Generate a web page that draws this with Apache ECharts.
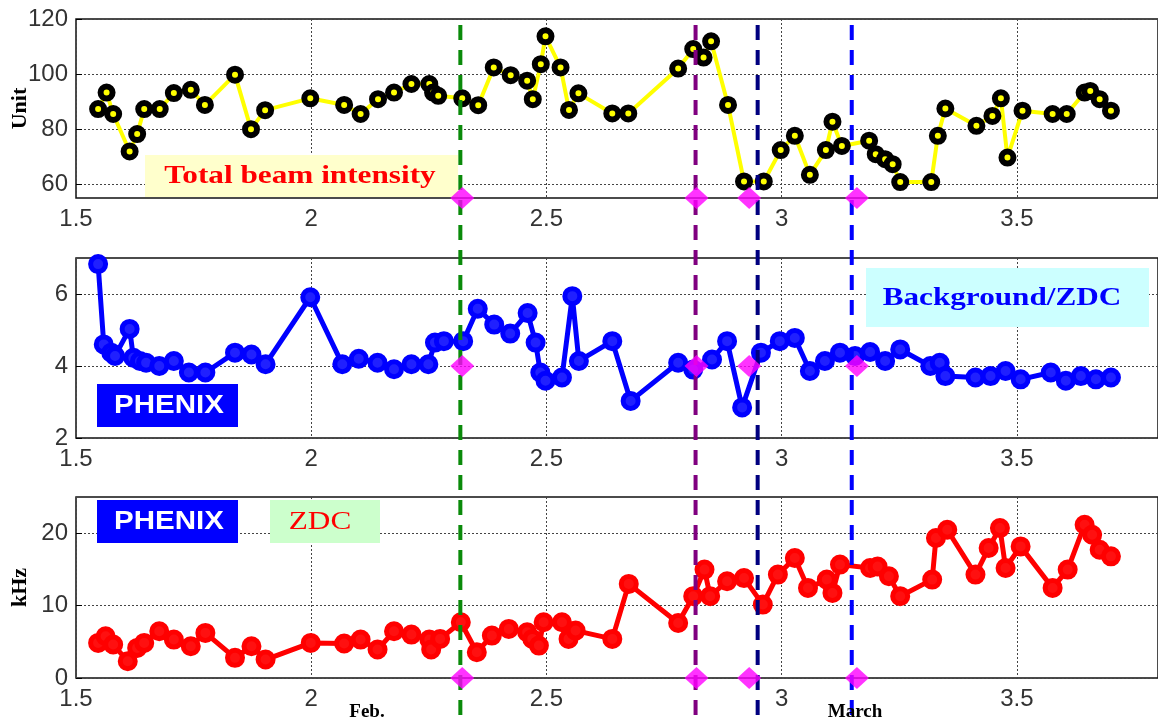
<!DOCTYPE html>
<html>
<head>
<meta charset="utf-8">
<script src="https://cdn.jsdelivr.net/npm/echarts@6/dist/echarts.min.js"></script>
<style>
html,body{margin:0;padding:0;background:#fff;}
#chart{width:1158px;height:725px;}
</style>
</head>
<body>
<div id="chart"></div>
<script>
// x-axis ticks (days, Feb. 1.5 ... March 3.5)
const xTicks = [1.5, 2, 2.5, 3, 3.5];
const beamTicks = [60, 80, 100, 120];
const bgTicks = [2, 4, 6];
const zdcTicks = [0, 10, 20];

// Total beam intensity (Unit)
const beamData = [[1.547,87.3],[1.565,93.3],[1.579,85.5],[1.614,71.9],[1.630,78.2],[1.645,87.3],[1.678,87.3],[1.708,93.1],[1.744,94.3],[1.774,88.8],[1.838,99.8],[1.872,80.0],[1.902,86.9],[1.998,91.2],[2.070,88.8],[2.105,85.5],[2.142,90.9],[2.176,93.3],[2.213,96.4],[2.251,96.4],[2.259,93.3],[2.270,92.1],[2.321,91.2],[2.355,88.7],[2.388,102.4],[2.424,99.6],[2.459,97.6],[2.471,90.9],[2.488,103.6],[2.498,113.7],[2.530,102.4],[2.548,87.0],[2.568,93.0],[2.640,85.7],[2.674,85.7],[2.780,102.0],[2.812,109.1],[2.834,106.0],[2.850,111.9],[2.886,88.8],[2.920,61.0],[2.962,61.0],[2.998,72.4],[3.028,77.6],[3.060,63.4],[3.094,72.4],[3.108,82.7],[3.128,73.9],[3.186,75.8],[3.200,70.9],[3.220,69.1],[3.236,67.3],[3.252,60.8],[3.318,60.8],[3.332,77.6],[3.348,87.5],[3.414,81.2],[3.448,84.8],[3.466,91.2],[3.480,69.7],[3.512,86.7],[3.576,85.5],[3.606,85.5],[3.644,93.3],[3.656,93.9],[3.676,90.9],[3.700,86.7]];

// PHENIX Background/ZDC
const bgData = [[1.547,6.83],[1.559,4.60],[1.575,4.37],[1.583,4.28],[1.614,5.03],[1.622,4.23],[1.636,4.14],[1.649,4.09],[1.677,4.00],[1.708,4.14],[1.740,3.82],[1.775,3.82],[1.838,4.37],[1.873,4.32],[1.903,4.05],[1.998,5.91],[2.066,4.05],[2.101,4.20],[2.141,4.09],[2.176,3.91],[2.213,4.05],[2.249,4.05],[2.263,4.65],[2.282,4.69],[2.323,4.69],[2.354,5.59],[2.389,5.15],[2.423,4.90],[2.460,5.47],[2.477,4.65],[2.487,3.82],[2.498,3.59],[2.533,3.68],[2.555,5.94],[2.569,4.14],[2.640,4.69],[2.679,3.03],[2.780,4.09],[2.812,3.90],[2.852,4.18],[2.884,4.69],[2.916,2.85],[2.956,4.37],[2.996,4.69],[3.028,4.78],[3.060,3.86],[3.092,4.14],[3.124,4.37],[3.156,4.28],[3.188,4.39],[3.220,4.14],[3.252,4.46],[3.316,4.00],[3.336,4.09],[3.348,3.72],[3.412,3.68],[3.444,3.72],[3.476,3.86],[3.508,3.63],[3.572,3.82],[3.604,3.59],[3.636,3.72],[3.668,3.63],[3.700,3.68]];

// PHENIX ZDC rate (kHz)
const zdcData = [[1.547,4.85],[1.563,5.77],[1.579,4.62],[1.610,2.32],[1.630,4.16],[1.645,4.85],[1.677,6.46],[1.708,5.31],[1.744,4.39],[1.775,6.23],[1.838,2.78],[1.873,4.39],[1.903,2.55],[1.999,4.85],[2.070,4.76],[2.105,5.31],[2.141,3.93],[2.176,6.46],[2.213,6.00],[2.251,5.31],[2.255,3.93],[2.274,5.40],[2.318,7.70],[2.352,3.56],[2.384,5.86],[2.420,6.78],[2.459,6.32],[2.470,5.40],[2.484,4.48],[2.494,7.70],[2.533,7.70],[2.547,5.40],[2.562,6.55],[2.640,5.40],[2.675,13.0],[2.780,7.60],[2.812,11.3],[2.836,14.97],[2.848,11.3],[2.884,13.36],[2.920,13.8],[2.960,10.14],[2.992,14.28],[3.028,16.57],[3.056,12.44],[3.096,13.59],[3.108,11.75],[3.124,15.66],[3.188,15.2],[3.204,15.4],[3.228,14.05],[3.252,11.3],[3.320,13.59],[3.328,19.33],[3.352,20.48],[3.412,14.28],[3.440,17.95],[3.464,20.71],[3.476,15.2],[3.508,18.18],[3.576,12.44],[3.608,14.97],[3.644,21.17],[3.660,19.79],[3.676,17.72],[3.700,16.80]];

// vertical dashed event lines and magenta event markers
const eventLines = [2.317, 2.817, 2.949, 3.149];
const eventColors = ['#0a8a0a', '#800080', '#000080', '#0000ff'];
const eventMarks = [2.321, 2.819, 2.931, 3.160];

const chart = echarts.init(document.getElementById('chart'));
const tickFont = {fontFamily: 'Liberation Sans, Arial, sans-serif', fontSize: 24, color: '#333'};
const grids = [
  {left: 76, right: 0, top: 19, height: 179},
  {left: 76, right: 0, top: 258, height: 180},
  {left: 76, right: 0, top: 497, height: 181}
];
const splitStyle = {show: true, lineStyle: {color: '#444', type: [2, 2], width: 1}};

function xAx(i) {
  return {
    type: 'value', gridIndex: i, min: 1.5, max: 3.8, interval: 0.5,
    axisLine: {show: false},
    axisTick: {show: false},
    splitLine: splitStyle,
    axisLabel: Object.assign({margin: 9, customValues: xTicks}, tickFont)
  };
}
function yAx(i, min, max, ticks, name) {
  return {
    type: 'value', gridIndex: i, min: min, max: max,
    name: name || '', nameLocation: 'middle', nameGap: 45, nameMoveOverlap: false,
    nameTextStyle: {fontFamily: 'Liberation Serif, Times New Roman, serif', fontWeight: 'bold', fontSize: 22, color: '#000'},
    axisLine: {show: false},
    axisTick: {show: true, inside: true, length: 6, customValues: ticks, lineStyle: {color: '#000'}},
    splitLine: splitStyle,
    axisLabel: Object.assign({margin: 8, customValues: ticks}, tickFont)
  };
}

const series = [
  {
    type: 'line', xAxisIndex: 0, yAxisIndex: 0, data: beamData,
    lineStyle: {color: '#ffff00', width: 4},
    symbol: 'circle', symbolSize: 12,
    itemStyle: {color: '#ffff00', borderColor: '#000', borderWidth: 6},
    z: 3
  },
  {
    type: 'line', xAxisIndex: 1, yAxisIndex: 1, data: bgData,
    lineStyle: {color: '#0000ff', width: 5},
    symbol: 'circle', symbolSize: 15,
    itemStyle: {color: '#2020ff', borderColor: '#0000ff', borderWidth: 5},
    z: 3
  },
  {
    type: 'line', xAxisIndex: 2, yAxisIndex: 2, data: zdcData,
    lineStyle: {color: '#ff0000', width: 5},
    symbol: 'circle', symbolSize: 15,
    itemStyle: {color: '#ff1010', borderColor: '#ff0000', borderWidth: 5},
    z: 3
  }
];
eventLines.forEach(function (x, k) {
  series.push({
    type: 'line', xAxisIndex: 3, yAxisIndex: 3,
    data: [[x, 0], [x, 1]], symbol: 'none', silent: true,
    lineStyle: {color: eventColors[k], width: 4, type: [15, 10]},
    z: 5
  });
});
const markLevels = [55, 4, 0];
markLevels.forEach(function (lv, i) {
  series.push({
    type: 'scatter', xAxisIndex: i, yAxisIndex: i, clip: false,
    data: eventMarks.map(function (x) { return [x, lv]; }),
    symbol: 'diamond', symbolSize: [24, 22],
    itemStyle: {color: '#ff00ff'}, z: 6
  });
});

const serifB = '"Liberation Serif", "Times New Roman", serif';
const option = {
  animation: false,
  backgroundColor: '#fff',
  grid: grids.map(function (g) { return Object.assign({show: true, borderColor: '#111', borderWidth: 1.5, backgroundColor: 'transparent', containLabel: false, outerBoundsMode: 'none'}, g); })
    .concat([{left: 76, right: 0, top: 22, height: 693, show: false, containLabel: false, outerBoundsMode: 'none'}]),
  xAxis: [xAx(0), xAx(1), xAx(2), {type: 'value', gridIndex: 3, min: 1.5, max: 3.8, show: false}],
  yAxis: [
    yAx(0, 55, 120, beamTicks, 'Unit'),
    yAx(1, 2, 7, bgTicks, ''),
    yAx(2, 0, 25, zdcTicks, 'kHz'),
    {type: 'value', gridIndex: 3, min: 0, max: 1, show: false}
  ],
  series: series,
  graphic: [
    {type: 'rect', shape: {x: 145, y: 155, width: 313, height: 42}, style: {fill: '#ffffcc'}, z: 1},
    {type: 'text', x: 300, y: 177, scaleX: 1.25, style: {text: 'Total beam intensity', fill: '#ff0000', font: 'bold 25px ' + serifB, align: 'center', verticalAlign: 'middle'}, z: 10},
    {type: 'rect', shape: {x: 866, y: 268, width: 283, height: 59}, style: {fill: '#ccffff'}, z: 1},
    {type: 'text', x: 1002, y: 298, scaleX: 1.2, style: {text: 'Background/ZDC', fill: '#0000ff', font: 'bold 26px ' + serifB, align: 'center', verticalAlign: 'middle'}, z: 10},
    {type: 'rect', shape: {x: 97, y: 384, width: 141, height: 43}, style: {fill: '#0000ff'}, z: 10},
    {type: 'text', x: 169, y: 406, scaleX: 1.18, style: {text: 'PHENIX', fill: '#ffffff', font: 'bold 25px "Liberation Sans", Arial, sans-serif', align: 'center', verticalAlign: 'middle'}, z: 11},
    {type: 'rect', shape: {x: 97, y: 500, width: 141, height: 43}, style: {fill: '#0000ff'}, z: 10},
    {type: 'text', x: 169, y: 522, scaleX: 1.18, style: {text: 'PHENIX', fill: '#ffffff', font: 'bold 25px "Liberation Sans", Arial, sans-serif', align: 'center', verticalAlign: 'middle'}, z: 11},
    {type: 'rect', shape: {x: 270, y: 500, width: 110, height: 43}, style: {fill: '#ccffcc'}, z: 10},
    {type: 'text', x: 320, y: 522, scaleX: 1.25, style: {text: 'ZDC', fill: '#ff0000', font: '25px ' + serifB, align: 'center', verticalAlign: 'middle'}, z: 11},
    {type: 'text', x: 367, y: 712, style: {text: 'Feb.', fill: '#000', font: 'bold 19px ' + serifB, align: 'center', verticalAlign: 'middle'}, z: 11},
    {type: 'text', x: 855, y: 712, style: {text: 'March', fill: '#000', font: 'bold 19px ' + serifB, align: 'center', verticalAlign: 'middle'}, z: 11}
  ]
};
chart.setOption(option);
</script>
</body>
</html>
